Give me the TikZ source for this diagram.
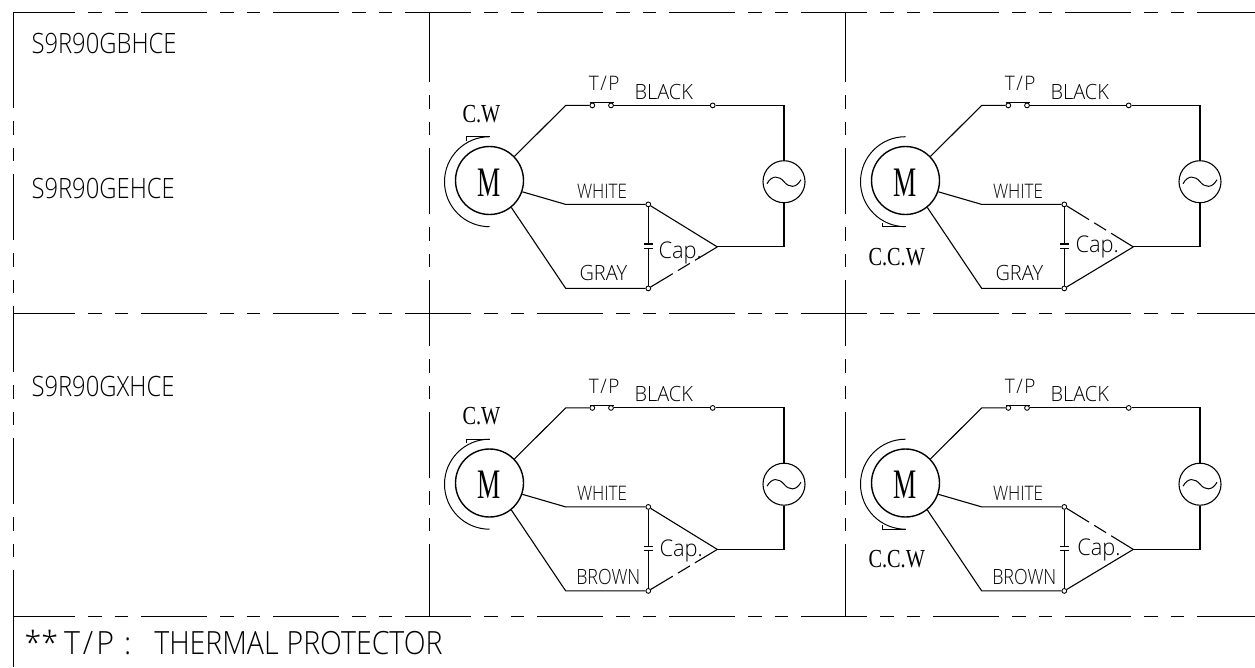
\documentclass[tikz,border=0pt]{standalone}
\usepackage{fontspec}
\usepackage{tikz,ifthen}
\usetikzlibrary{calc}
\newfontfamily\cadfont[FakeStretch=0.85,UprightFont={* Light}]{Open Sans}
\newfontfamily\widefont[FakeStretch=0.95,UprightFont={* Light}]{Open Sans}
\newfontfamily\notefont[FakeStretch=0.89,UprightFont={* Light}]{Open Sans}
\newfontfamily\turnfont[FakeStretch=0.78]{Liberation Serif}
\newfontfamily\motorfont[FakeStretch=0.62]{Liberation Serif}

\begin{document}
\begin{tikzpicture}[x=1pt,y=-1pt,line width=1.1pt,
    griddash/.style={line width=1pt,dash pattern=on 66pt off 13pt on 13.5pt off 13pt on 13.5pt off 13pt},
    capdash/.style={dash pattern=on 26pt off 6pt on 14pt off 6pt on 30pt},
    capsolid/.style={solid},
    terminal/.style={draw,circle,fill=white,line width=0.9pt,inner sep=0pt,minimum size=4.8pt},
    machine/.style={draw,circle,inner sep=0pt,line width=1.4pt},
    txt/.style={inner sep=0pt,anchor=base west,font=\cadfont\fontsize{#1}{#1}\selectfont}]
    \useasboundingbox (0,0) rectangle (1255,667);

    \coordinate (Left) at (13,12);
    \coordinate (LeftDash) at (13,42);
    \coordinate (LeftEnd) at (13,570);
    \coordinate (LeftBottom) at (13,667);
    \coordinate (Top) at (1255,12);
    \coordinate (MidLeft) at (13,313.7);
    \coordinate (Mid) at (1255,313.7);
    \coordinate (LowLeft) at (13,616.5);
    \coordinate (Low) at (1255,616.5);

    % frame
    \draw [griddash,dash phase=4pt] (Left) -- (Top);
    \draw [griddash,dash phase=4pt] (MidLeft) -- (Mid);
    \draw [griddash,dash phase=4pt] (LowLeft) -- (Low);
    \draw [griddash] (LeftDash) -- (LeftEnd);
    \draw [line width=1pt] (Left) -- (LeftDash);
    \draw [line width=1pt] (LeftEnd) -- (LeftBottom);

    \foreach \x/\name in {429/A,845/B} {
        \coordinate (\name Top) at (\x,12);
        \coordinate (\name Dash) at (\x,16);
        \coordinate (\name End) at (\x,610);
        \coordinate (\name Low) at (\x,616.5);
        \draw [griddash] (\name Dash) -- (\name End);
        \draw [line width=1pt] (\name Top) -- (\name Dash);
        \draw [line width=1pt] (\name End) -- (\name Low);
    }

    \node [txt=28] (model1) at (31,53) {S9R90GBHCE};
    \node [txt=28] (model2) at (31,198) {S9R90GEHCE};
    \node [txt=28] (model3) at (31,396) {S9R90GXHCE};
    \node [txt=32] (note) at (24,654) {\widefont **\kern6pt T\kern3pt/\kern3pt P\kern10pt :\kern23pt \notefont THERMAL\kern8pt PROTECTOR};

    % the four motor circuits
    \foreach \n/\dx/\dy/\turn/\turnx/\side/\upper/\lower/\wirefam/\wire/\wirex/\wirey/\capx/\capy in {
        1/0/0/C.W/462/-1/capsolid/capdash/\widefont/GRAY/579/280/658/258,
        2/416/0/C.C.W/452/1/capdash/capsolid/\widefont/GRAY/579/280/659/252.7,
        3/0/302.5/C.W/462/-1/capsolid/capdash/\cadfont/BROWN/575.7/282/659/254.2,
        4/416/302.5/C.C.W/452/1/capdash/capsolid/\cadfont/BROWN/575.7/282/660.7/252.5} {
    \begin{scope}[shift={(\dx,\dy)}]
        \node [machine,minimum size=68pt] (M\n) at (489.5,180.5) {};
        \node [inner sep=0pt,anchor=base,font=\motorfont\fontsize{42}{42}\selectfont] (Mtext\n) at (489.5,196) {M};
        \node [machine,line width=1.1pt,minimum size=42pt] (AC\n) at (784,181.7) {};

        \coordinate (Bend1\n) at (565.7,105.4);
        \coordinate (Bend2\n) at (565.7,204.4);
        \coordinate (Bend3\n) at (565.7,288.4);
        \coordinate (Corner1\n) at (784,105.4);
        \coordinate (Corner2\n) at (784,246.9);
        \coordinate (Apex\n) at (717.3,246.9);
        \coordinate (Plate1\n) at (648.3,244);
        \coordinate (Plate2\n) at (648.3,248.3);
        \coordinate (Turn\n) at (489.5,181.7);

        \node [terminal] (TPa\n) at (592.3,105.4) {};
        \node [terminal] (TPb\n) at (611,105.4) {};
        \node [terminal] (Lug\n) at (712.7,105.4) {};
        \node [terminal] (Wn\n) at (648.3,204.4) {};
        \node [terminal] (Gn\n) at (648.3,288.4) {};

        \draw (M\n.44) -- (Bend1\n) -- (TPa\n);
        \draw (TPb\n) -- (Lug\n) -- (Corner1\n) -- (AC\n);
        \draw (AC\n) -- (Corner2\n) -- (Apex\n);
        \draw (M\n.-19) -- (Bend2\n) -- (Wn\n);
        \draw (M\n.-51) -- (Bend3\n) -- (Gn\n);
        \draw [\upper] (Apex\n) -- (Wn\n);
        \draw [\lower] (Apex\n) -- (Gn\n);
        \draw (Wn\n) -- (Plate1\n);
        \draw (Gn\n) -- (Plate2\n);
        \draw ($(Plate1\n)+(-4.7,0)$) -- ($(Plate1\n)+(4.7,0)$);
        \draw ($(Plate2\n)+(-4.7,0)$) -- ($(Plate2\n)+(4.7,0)$);
        \draw ($(TPa\n)+(-2.5,-2.7)$) -- ($(TPb\n)+(2.5,-2.7)$);
        \draw [line width=1pt] ($(AC\n)+(-17,2)$) .. controls ($(AC\n)+(-12,-7)$) and ($(AC\n)+(-5,-6)$) .. (AC\n.center)
            .. controls ($(AC\n)+(5,6)$) and ($(AC\n)+(12,7)$) .. ($(AC\n)+(17,-2)$);

        % rotation sense
        \draw [line width=1pt] ($(Turn\n)+(0,-45)$) arc [start angle=-90,end angle=-270,radius=45];
        \draw [line width=1pt] ($(Turn\n)+(0,45*\side)$) -- ($(Turn\n)+(-23.5,45*\side)$) -- ($(Turn\n)+(-23.5,45*\side-4*\side)$);

        \ifthenelse{\side=-1}{
            \node [inner sep=0pt,anchor=base west,font=\turnfont\fontsize{26}{26}\selectfont] (Sense\n) at (\turnx,122) {\turn};
        }{
            \node [inner sep=0pt,anchor=base west,font=\turnfont\fontsize{26}{26}\selectfont] (Sense\n) at (\turnx,265) {\turn};
        }

        \node [txt=20] (TP\n) at (588.3,90.7) {\widefont T\kern1.5pt/\kern1.5pt P};
        \node [txt=21] (Black\n) at (634,99) {\widefont BLACK};
        \node [txt=20] (White\n) at (576.5,198) {WHITE};
        \node [txt=21] (Low\n) at (\wirex,\wirey) {\wirefam\wire};
        \node [txt=23] (Cap\n) at (\capx,\capy) {\widefont Cap.};
    \end{scope}
    }
\end{tikzpicture}
\end{document}
